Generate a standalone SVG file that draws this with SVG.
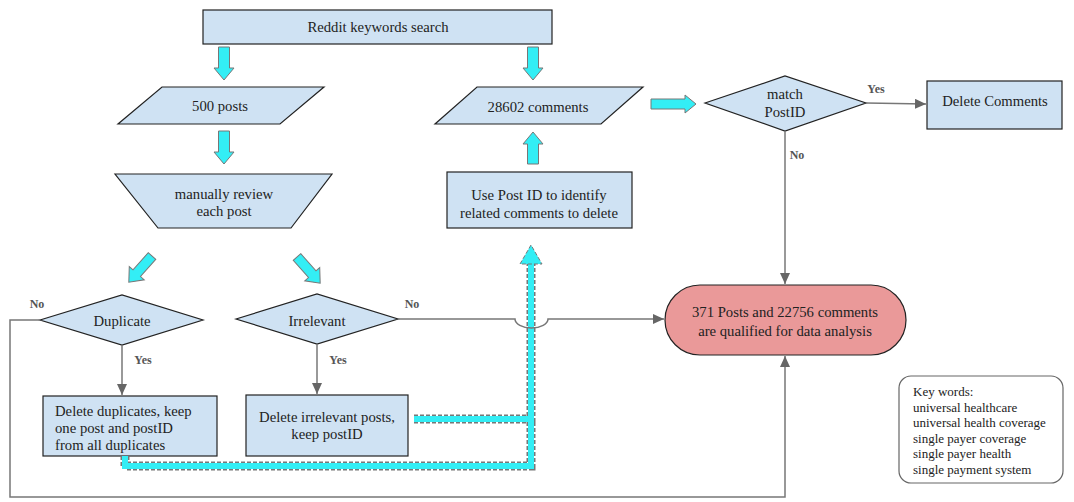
<svg xmlns="http://www.w3.org/2000/svg" width="1074" height="502" viewBox="0 0 1074 502">
<style>
.n{fill:#cfe2f3;stroke:#222;stroke-width:1.2}
.t{font-family:"Liberation Serif","Times New Roman",serif;font-size:14.7px;fill:#222;text-anchor:middle}
.tl{font-family:"Liberation Serif","Times New Roman",serif;font-size:14.7px;fill:#222}
.tk{font-family:"Liberation Serif","Times New Roman",serif;font-size:13px;fill:#222}
.lb{font-family:"Liberation Serif","Times New Roman",serif;font-size:12px;font-weight:bold;fill:#555;text-anchor:middle}
.ba{fill:#33eef5;stroke:#777;stroke-width:1}
.c{fill:none;stroke:#777;stroke-width:1.5}
.cd{fill:none;stroke:#777;stroke-width:9;stroke-dasharray:4 2}
.cc{fill:none;stroke:#33eef5;stroke-width:6}
</style>
<defs>
<marker id="ah" markerUnits="userSpaceOnUse" markerWidth="12" markerHeight="10" refX="11" refY="5" orient="auto">
<path d="M0,0 L11,5 L0,10 Z" fill="#666"/>
</marker>
</defs>
<g id="reddit"><rect class="n" x="203" y="10" width="349" height="34"/><text class="t" x="378" y="32">Reddit keywords search</text></g>
<g id="posts500"><polygon class="n" points="162,87 324,87 280,124 118,124"/><text class="t" x="220" y="111">500 posts</text></g>
<g id="review"><polygon class="n" points="115,174 332,174 291,228 158,228"/><text class="t" x="224" y="199">manually review</text><text class="t" x="224" y="216">each post</text></g>
<g id="comments"><polygon class="n" points="477,87 643,87 601,124 435,124"/><text class="t" x="538" y="112">28602 comments</text></g>
<g id="usepostid"><rect class="n" x="447" y="172" width="185" height="56"/><text class="t" x="539" y="200">Use Post ID to identify</text><text class="t" x="539" y="218">related comments to delete</text></g>
<g id="match"><polygon class="n" points="705,103 785,76 866,103 785,131"/><text class="t" x="785" y="99">match</text><text class="t" x="785" y="117">PostID</text></g>
<g id="deletecomments"><rect class="n" x="927" y="81" width="135" height="48"/><text class="t" x="995" y="106">Delete Comments</text></g>
<g id="duplicate"><polygon class="n" points="40,320 122,295 203,320 122,345"/><text class="t" x="122" y="326">Duplicate</text></g>
<g id="irrelevant"><polygon class="n" points="236,319 317,294 398,319 317,344"/><text class="t" x="317" y="326">Irrelevant</text></g>
<g id="deldup"><rect class="n" x="43" y="396" width="174" height="60"/><text class="tl" x="55" y="416">Delete duplicates, keep</text><text class="tl" x="55" y="433">one post and postID</text><text class="tl" x="55" y="450">from all duplicates</text></g>
<g id="delirr"><rect class="n" x="246" y="395" width="162" height="61"/><text class="t" x="327" y="422">Delete irrelevant posts,</text><text class="t" x="327" y="439">keep postID</text></g>
<g id="result"><rect x="665" y="285" width="241" height="70" rx="35" ry="35" fill="#ea9999" stroke="#222" stroke-width="1.2"/><text class="t" x="785" y="317">371 Posts and 22756 comments</text><text class="t" x="785" y="336">are qualified for data analysis</text></g>
<g id="keywords"><rect x="899" y="376" width="164" height="107" rx="12" ry="12" fill="#fff" stroke="#666" stroke-width="1.2"/>
<text class="tk" x="913" y="396">Key words:</text><text class="tk" x="913" y="412">universal healthcare</text><text class="tk" x="913" y="427">universal health coverage</text><text class="tk" x="913" y="443">single payer coverage</text><text class="tk" x="913" y="458">single payer health</text><text class="tk" x="913" y="474">single payment system</text></g>
<g id="connectors">
<polygon class="ba" points="218.5,47 229.5,47 229.5,68 234,68 224,80 214,68 218.5,68"/>
<polygon class="ba" points="527.5,47 538.5,47 538.5,68 543,68 533,80 523,68 527.5,68"/>
<polygon class="ba" points="218.5,131 229.5,131 229.5,152 234,152 224,164 214,152 218.5,152"/>
<polygon class="ba" points="527.5,164 538.5,164 538.5,144 543,144 533,132 523,144 527.5,144"/>
<polygon class="ba" points="651,99 685,99 685,95 696,104 685,113 685,109 651,109"/>
<polygon class="ba" points="0,-5 23,-5 23,-10 35,0 23,10 23,5 0,5" transform="translate(152,256) rotate(131.5)"/>
<polygon class="ba" points="0,-5 23,-5 23,-10 35,0 23,10 23,5 0,5" transform="translate(297,257) rotate(48.5)"/>
<path class="cd" d="M414,419 H531 V263 M125,456 V466 H531 V419"/>
<path class="cc" d="M414,419 H531 V263 M125,456 V466 H531 V419"/>
<polygon points="520,264 531,245 542,264" fill="#33eef5" stroke="#777" stroke-width="1" stroke-dasharray="4 2"/>
<path class="c" d="M40,320 H10 V497 H785 V356" marker-end="url(#ah)"/>
<path class="c" d="M398,319 H515 A16.5 9 0 0 0 548,319 H664" marker-end="url(#ah)"/>
<path class="c" d="M122,345 V395" marker-end="url(#ah)"/>
<path class="c" d="M317,344 V394" marker-end="url(#ah)"/>
<path class="c" d="M866,103 L926,104" marker-end="url(#ah)"/>
<path class="c" d="M785,131 V284" marker-end="url(#ah)"/>
<text class="lb" x="37" y="308">No</text>
<text class="lb" x="412" y="308">No</text>
<text class="lb" x="143" y="364">Yes</text>
<text class="lb" x="338" y="364">Yes</text>
<text class="lb" x="876" y="93">Yes</text>
<text class="lb" x="797" y="159">No</text>
</g>
</svg>
